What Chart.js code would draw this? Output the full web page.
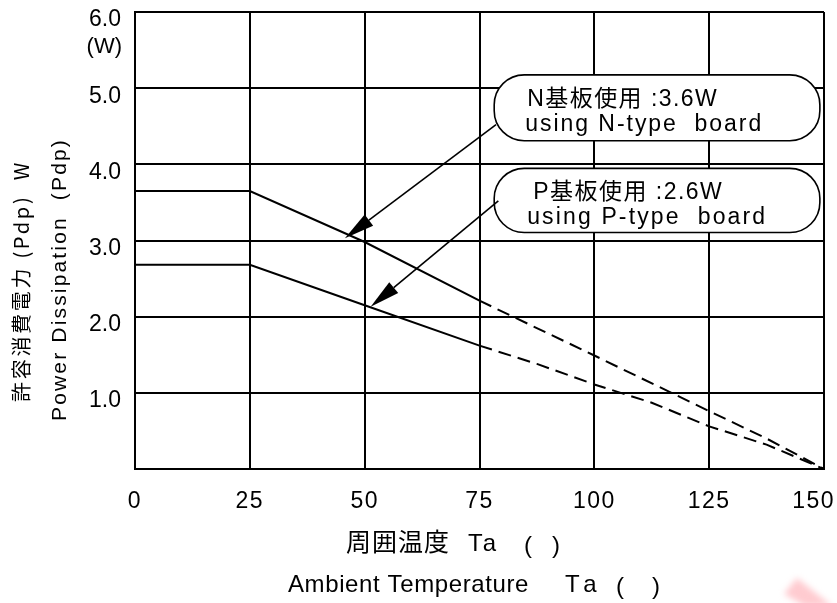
<!DOCTYPE html>
<html>
<head>
<meta charset="utf-8">
<script src="https://cdn.jsdelivr.net/npm/chart.js@4.4.1/dist/chart.umd.min.js"></script>
<style>
  body { margin: 0; background: #fff; }
  #wrap { width: 837px; height: 603px; }
</style>
</head>
<body>
<div id="wrap"><canvas id="pdChart"></canvas></div>
<script>
// derating curves (Ta in deg C, Pdp in W)
const tempSolidN = [0, 25, 50, 75];
const powerSolidN = [3.65, 3.65, 2.98, 2.21];
const tempDashN = [75, 100, 125, 137.5, 150];
const powerDashN = [2.21, 1.49, 0.76, 0.4, 0];

const tempSolidP = [0, 25, 50, 75];
const powerSolidP = [2.68, 2.68, 2.15, 1.62];
const tempDashP = [75, 87.5, 100, 112.5, 125, 137.5, 150];
const powerDashP = [1.62, 1.38, 1.11, 0.87, 0.56, 0.32, 0];

const xTickValues = [0, 25, 50, 75, 100, 125, 150];
const xTickLabels = ['0', '25', '50', '75', '100', '125', '150'];
const yTickLabels = ['', '1.0', '2.0', '3.0', '4.0', '5.0', '6.0'];

// callout boxes, placed in data units
const callouts = [
  { line1: 'N基板使用 :3.6W', line2: 'using N-type  board',
    x0: 78.2, x1: 149.1, yTop: 5.175, yBot: 4.31,
    t1: [33, 191], t2: [31, 238], tail: [78.6, 4.52], tip: [45.7, 3.03] },
  { line1: 'P基板使用 :2.6W', line2: 'using P-type  board',
    x0: 78.2, x1: 149.1, yTop: 3.947, yBot: 3.105,
    t1: [39, 190], t2: [33, 240], tail: [79.1, 3.52], tip: [51.3, 2.13] }
];

const LATIN = '"Liberation Sans", Arial, sans-serif';
const MIXED = '"Liberation Sans", "Noto Sans CJK JP", sans-serif';
const CJK = '"Noto Sans CJK JP", "Liberation Sans", sans-serif';

const toPts = (xs, ys) => xs.map((t, i) => ({ x: t, y: ys[i] }));

// stretch text to a measured width with letter spacing
function fitText(ctx, text, x, y, width) {
  ctx.letterSpacing = '0px';
  const w = ctx.measureText(text).width;
  const n = [...text].length;
  ctx.letterSpacing = ((width - w) / n) + 'px';
  ctx.textAlign = 'left';
  ctx.fillText(text, x, y);
  ctx.letterSpacing = '0px';
}

function pill(ctx, l, t, r, b) {
  const rad = Math.min(30, (b - t) / 2);
  ctx.beginPath();
  ctx.moveTo(l + rad, t);
  ctx.lineTo(r - rad, t);
  ctx.arcTo(r, t, r, t + rad, rad);
  ctx.lineTo(r, b - rad);
  ctx.arcTo(r, b, r - rad, b, rad);
  ctx.lineTo(l + rad, b);
  ctx.arcTo(l, b, l, b - rad, rad);
  ctx.lineTo(l, t + rad);
  ctx.arcTo(l, t, l + rad, t, rad);
  ctx.closePath();
  ctx.fill();
  ctx.stroke();
}

function arrow(ctx, fx, fy, tx, ty) {
  const ang = Math.atan2(ty - fy, tx - fx);
  const len = 30, hw = 7;
  const bx = tx - len * Math.cos(ang), by = ty - len * Math.sin(ang);
  ctx.beginPath();
  ctx.moveTo(fx, fy);
  ctx.lineTo(bx, by);
  ctx.stroke();
  ctx.beginPath();
  ctx.moveTo(tx, ty);
  ctx.lineTo(bx + hw * Math.sin(ang), by - hw * Math.cos(ang));
  ctx.lineTo(bx - hw * Math.sin(ang), by + hw * Math.cos(ang));
  ctx.closePath();
  ctx.fill();
}

const decorations = {
  id: 'decorations',
  afterDatasetsDraw(chart) {
    const { ctx, scales: { x, y } } = chart;
    ctx.save();
    callouts.forEach(c => {
      const l = x.getPixelForValue(c.x0), r = x.getPixelForValue(c.x1);
      const t = y.getPixelForValue(c.yTop), b = y.getPixelForValue(c.yBot);
      ctx.fillStyle = '#fff';
      ctx.strokeStyle = '#000';
      ctx.lineWidth = 1.6;
      pill(ctx, l, t, r, b);
      ctx.fillStyle = '#000';
      ctx.textBaseline = 'alphabetic';
      ctx.font = '23px ' + MIXED;
      fitText(ctx, c.line1, l + c.t1[0], t + 31, c.t1[1]);
      ctx.font = '23px ' + LATIN;
      fitText(ctx, c.line2, l + c.t2[0], t + 56, c.t2[1]);
      ctx.lineWidth = 1.6;
      arrow(ctx, x.getPixelForValue(c.tail[0]), y.getPixelForValue(c.tail[1]),
        x.getPixelForValue(c.tip[0]), y.getPixelForValue(c.tip[1]));
    });
    ctx.restore();
  },
  afterDraw(chart) {
    const { ctx, scales: { x, y } } = chart;
    ctx.save();
    ctx.fillStyle = '#000';

    // x tick labels
    ctx.font = '23px ' + LATIN;
    ctx.textBaseline = 'alphabetic';
    xTickValues.forEach((v, i) => {
      ctx.letterSpacing = '1.5px';
      const w = ctx.measureText(xTickLabels[i]).width;
      const left = Math.min(x.getPixelForValue(v) - w / 2, chart.width - 2 - w);
      ctx.textAlign = 'left';
      ctx.fillText(xTickLabels[i], left, x.top + 39);
    });
    ctx.letterSpacing = '0px';

    // unit under the top tick
    ctx.font = '22px ' + LATIN;
    ctx.textAlign = 'right';
    ctx.textBaseline = 'middle';
    ctx.fillText('(W)', y.right - 13, y.getPixelForValue(6) + 35);

    // x titles
    ctx.textBaseline = 'alphabetic';
    ctx.textAlign = 'left';
    ctx.font = '25px ' + CJK;
    fitText(ctx, '周囲温度', 346, 551, 104);
    ctx.font = '24px ' + LATIN;
    fitText(ctx, 'Ta', 468, 551, 31);
    ctx.fillText('(', 524, 553);
    ctx.fillText(')', 552, 553);

    fitText(ctx, 'Ambient Temperature', 288, 592, 241);
    fitText(ctx, 'Ta', 565, 592, 38);
    ctx.fillText('(', 616, 594);
    ctx.fillText(')', 652, 594);

    // y titles
    ctx.textBaseline = 'middle';
    ctx.save();
    ctx.translate(21.5, 281);
    ctx.rotate(-Math.PI / 2);
    ctx.font = '20px ' + CJK;
    fitText(ctx, '許容消費電力 (Pdp)  W', -121, 0, 242);
    ctx.restore();
    ctx.save();
    ctx.translate(60.5, 280);
    ctx.rotate(-Math.PI / 2);
    ctx.font = '21px ' + LATIN;
    fitText(ctx, 'Power Dissipation  (Pdp)', -141, 0, 283);
    ctx.restore();

    // faint watermark corner
    ctx.filter = 'blur(3px)';
    ctx.fillStyle = 'rgba(255, 160, 170, 0.55)';
    ctx.beginPath();
    ctx.moveTo(784, 594);
    ctx.lineTo(797, 578);
    ctx.lineTo(832, 606);
    ctx.lineTo(805, 606);
    ctx.closePath();
    ctx.fill();
    ctx.restore();
  }
};

const solid = { borderColor: '#000', borderWidth: 2, pointRadius: 0, fill: false, tension: 0 };
const dashed = Object.assign({}, solid, { borderDash: [13, 7] });

const pdChart = new Chart(document.getElementById('pdChart'), {
  type: 'line',
  data: {
    datasets: [
      Object.assign({ label: 'N基板 (solid)', data: toPts(tempSolidN, powerSolidN) }, solid),
      Object.assign({ label: 'N基板 (dash)', data: toPts(tempDashN, powerDashN) }, dashed),
      Object.assign({ label: 'P基板 (solid)', data: toPts(tempSolidP, powerSolidP) }, solid),
      Object.assign({ label: 'P基板 (dash)', data: toPts(tempDashP, powerDashP) }, dashed)
    ]
  },
  options: {
    responsive: true,
    maintainAspectRatio: false,
    animation: false,
    layout: { padding: { top: 12, right: 13, left: 0, bottom: 0 } },
    plugins: { legend: { display: false }, tooltip: { enabled: false } },
    scales: {
      x: {
        type: 'linear', min: 0, max: 150,
        ticks: { stepSize: 25, display: false },
        grid: { color: '#000', lineWidth: 2, drawTicks: false },
        border: { color: '#000', width: 2 },
        afterFit(s) { s.height = 134; s.paddingLeft = 0; s.paddingRight = 0; }
      },
      y: {
        type: 'linear', min: 0, max: 6,
        ticks: {
          stepSize: 1, color: '#000', padding: 14, labelOffset: 8,
          font: { size: 23, family: LATIN },
          callback: v => yTickLabels[v] ?? ''
        },
        grid: { color: '#000', lineWidth: 2, drawTicks: false },
        border: { color: '#000', width: 2 },
        afterFit(s) { s.width = 135; s.paddingTop = 0; s.paddingBottom = 0; }
      }
    }
  },
  plugins: [decorations]
});
</script>
</body>
</html>
